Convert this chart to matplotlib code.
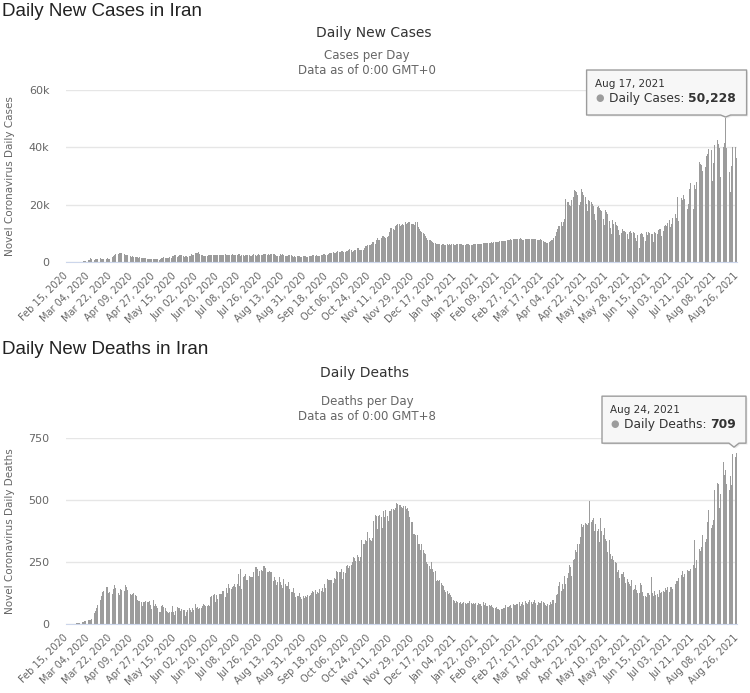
import numpy as np
import pandas as pd
import matplotlib
matplotlib.use('Agg')
import matplotlib.pyplot as plt
from matplotlib.patches import Polygon
from matplotlib.transforms import IdentityTransform

# daily values, Feb 15 2020 .. Aug 26 2021
start_date = '2020-02-15'
end_date = '2021-08-26'

# new cases, in thousands
cases_k = [
    # Feb 2020 (15-29)
    0, 0, 0, 0, 0.002, 0.003, 0.013, 0.010, 0.015, 0.018, 0.034, 0.044, 0.106, 0.143, 0.205,
    # Mar 2020
    0.385, 0.523, 0.835, 0.586, 0.591, 1.234, 1.076, 0.743, 0.595, 0.881,
    0.958, 1.075, 1.289, 1.365, 1.209, 1.053, 1.178, 1.192, 1.046, 1.237,
    0.966, 1.028, 1.411, 1.762, 2.206, 2.389, 2.926, 3.076, 2.901, 3.186, 3.110,
    # Apr 2020
    2.988, 2.875, 2.715, 2.560, 2.483, 2.274, 2.089, 1.997, 1.634, 1.972,
    1.837, 1.657, 1.617, 1.574, 1.512, 1.606, 1.499, 1.374, 1.343, 1.294,
    1.297, 1.194, 1.030, 1.168, 1.134, 1.153, 0.991, 1.112, 1.073, 0.993,
    # May 2020
    1.006, 0.802, 0.976, 1.223, 1.323, 1.680, 1.485, 1.556, 1.529, 1.383,
    1.683, 1.481, 1.958, 2.102, 2.346, 2.294, 1.806, 2.011, 2.294, 2.392,
    2.311, 2.102, 1.869, 2.180, 2.023, 1.815, 2.111, 2.080, 2.819, 2.282, 2.516,
    # Jun 2020
    2.979, 3.117, 3.134, 3.574, 2.886, 2.364, 2.596, 2.011, 2.095, 2.011,
    2.238, 2.410, 2.369, 2.472, 2.449, 2.612, 2.563, 2.596, 2.615, 2.322,
    2.368, 2.573, 2.531, 2.445, 2.595, 2.628, 2.489, 2.536, 2.457, 2.489,
    # Jul 2020
    2.549, 2.652, 2.560, 2.613, 2.560, 2.613, 2.637, 2.691, 2.262, 2.397,
    2.388, 2.186, 2.349, 2.521, 2.500, 2.379, 2.166, 2.166, 2.414, 2.625,
    2.586, 2.211, 2.489, 2.621, 2.316, 2.333, 2.434, 2.667, 2.751, 2.636, 2.451,
    # Aug 2020
    2.685, 2.598, 2.685, 2.685, 2.697, 2.634, 2.450, 2.125, 2.020, 2.245,
    2.751, 2.444, 2.698, 2.359, 2.133, 1.951, 2.061, 2.551, 2.444, 2.385,
    2.125, 1.907, 2.004, 1.820, 2.095, 2.118, 1.995, 1.777, 1.882, 1.974, 1.943,
    # Sep 2020
    1.994, 1.682, 1.884, 2.055, 2.134, 2.063, 2.269, 2.275, 2.137, 2.313,
    2.089, 2.049, 2.251, 2.472, 2.615, 2.705, 2.792, 2.563, 2.598, 2.850,
    3.049, 3.121, 3.204, 3.521, 3.201, 3.130, 3.362, 3.712, 3.559, 3.582,
    # Oct 2020
    3.825, 3.677, 3.576, 3.637, 3.902, 3.817, 4.019, 4.392, 4.142, 3.632,
    3.856, 4.206, 4.156, 4.830, 4.721, 4.103, 4.251, 4.131, 4.251, 5.039,
    5.616, 5.615, 5.960, 5.814, 5.960, 6.191, 6.968, 6.824, 6.391, 7.820, 8.293,
    # Nov 2020
    7.719, 7.719, 8.289, 8.932, 9.236, 8.828, 8.201, 8.880, 9.236, 10.463,
    11.780, 11.737, 11.517, 11.272, 12.543, 13.053, 13.421, 13.223, 12.478, 12.931,
    13.223, 12.931, 13.843, 13.321, 13.762, 13.843, 14.051, 13.401, 13.262, 13.321,
    # Dec 2020
    13.056, 13.922, 13.831, 12.151, 11.455, 10.800, 10.401, 10.223, 9.650, 9.171,
    8.201, 7.650, 7.601, 7.612, 7.371, 7.016, 6.796, 6.571, 6.312, 6.241,
    6.151, 6.201, 6.021, 6.108, 6.271, 6.024, 6.050, 6.163, 6.048, 6.125, 6.094,
    # Jan 2021
    6.200, 6.400, 6.100, 6.002, 6.171, 6.161, 6.273, 6.215, 6.137, 5.996,
    5.845, 6.002, 6.195, 6.256, 6.105, 6.014, 6.072, 5.885, 6.126, 6.161,
    6.228, 6.317, 6.366, 6.268, 6.164, 6.422, 6.508, 6.692, 6.486, 6.506, 6.482,
    # Feb 2021
    6.734, 6.671, 6.871, 6.792, 6.978, 6.955, 6.931, 7.104, 7.128, 7.193,
    7.380, 7.261, 7.379, 7.466, 7.424, 7.590, 7.708, 7.832, 7.916, 7.826,
    8.009, 8.106, 8.120, 8.011, 8.012, 8.136, 8.206, 8.013,
    # Mar 2021
    7.700, 7.841, 8.003, 8.094, 8.067, 7.934, 7.866, 7.948, 8.100, 8.097,
    7.990, 7.998, 7.650, 7.635, 7.810, 7.950, 7.742, 7.403, 7.115, 6.901,
    6.651, 6.705, 6.990, 7.200, 7.500, 7.800, 8.500, 9.100, 10.330, 11.680, 12.600,
    # Apr 2021
    12.6, 13.9, 12.6, 13.8, 15.1, 21.9, 20.9, 21.0, 19.9, 19.5,
    21.6, 22.5, 25.0, 24.7, 24.3, 23.3, 19.9, 21.0, 25.5, 24.3,
    23.3, 22.5, 20.1, 17.9, 21.6, 21.3, 20.9, 20.4, 19.5, 16.7,
    # May 2021
    14.5, 19.2, 19.6, 18.7, 18.2, 17.9, 15.0, 12.9, 18.0, 17.4,
    16.8, 14.2, 11.9, 9.8, 14.7, 13.4, 14.1, 12.9, 12.5, 11.3,
    9.4, 10.2, 11.5, 10.7, 10.9, 10.3, 9.6, 8.1, 10.4, 10.8, 10.1,
    # Jun 2021
    10.5, 10.2, 8.5, 7.2, 9.3, 4.8, 9.8, 10.1, 9.7, 8.8,
    7.4, 10.4, 9.3, 10.3, 10.1, 9.9, 9.6, 6.9, 10.5, 10.2,
    9.7, 11.2, 11.6, 11.5, 9.2, 10.8, 12.5, 13.0, 12.4, 13.7,
    # Jul 2021
    14.5, 12.1, 13.2, 15.3, 15.9, 16.7, 15.4, 22.7, 14.3, 19.0,
    22.3, 21.5, 23.4, 22.1, 22.5, 18.6, 20.2, 25.4, 27.4, 25.9,
    18.5, 26.9, 25.6, 28.0, 29.7, 34.9, 34.2, 34.0, 31.8, 27.4, 33.0,
    # Aug 2021 (1-26)
    37.1, 37.5, 39.3, 39.6, 39.0, 28.1, 34.4, 40.8, 40.6, 42.5,
    41.2, 39.6, 29.7, 36.4, 40.1, 41.5, 50.228, 39.8, 36.4, 31.3,
    24.3, 33.5, 40.2, 39.9, 40.1, 36.4,
]

deaths = [
    # Feb 2020 (15-29)
    0, 0, 0, 0, 2, 0, 2, 1, 3, 4, 4, 3, 7, 8, 9,
    # Mar 2020
    11, 12, 11, 15, 15, 17, 21, 49, 43, 54, 63, 75, 85, 97, 113, 129,
    135, 147, 149, 149, 123, 129, 127, 122, 143, 157, 144, 139, 123, 117, 141,
    # Apr 2020
    138, 124, 134, 158, 151, 136, 133, 121, 117, 122, 125, 117, 111, 98, 94,
    92, 89, 73, 87, 88, 94, 88, 90, 93, 76, 60, 96, 71, 80, 71,
    # May 2020
    63, 47, 47, 74, 78, 68, 65, 51, 48, 45, 48, 50, 71, 48, 35, 51,
    69, 66, 63, 51, 62, 56, 58, 34, 50, 57, 63, 56, 50, 63, 57,
    # Jun 2020
    81, 64, 70, 59, 63, 63, 72, 81, 75, 71, 71, 75, 71, 107, 113,
    115, 120, 87, 115, 100, 119, 121, 119, 133, 134, 109, 144, 125, 162, 147,
    # Jul 2020
    141, 148, 154, 163, 148, 163, 200, 153, 221, 142, 188, 194, 203, 179, 179, 195,
    188, 188, 188, 209, 229, 229, 221, 195, 215, 216, 212, 235, 235, 226, 208,
    # Aug 2020
    208, 212, 208, 211, 174, 189, 179, 156, 169, 189, 170, 158, 144, 181, 163, 152,
    152, 168, 141, 128, 130, 146, 123, 107, 114, 112, 124, 108, 102, 113, 104,
    # Sep 2020
    112, 109, 115, 113, 116, 125, 134, 128, 138, 122, 128, 126, 141, 134, 144,
    131, 162, 147, 180, 177, 178, 176, 178, 165, 184, 182, 213, 210, 211, 209,
    # Oct 2020
    223, 181, 210, 206, 235, 239, 227, 235, 239, 251, 272, 267, 254, 279, 269, 253,
    269, 337, 322, 322, 337, 335, 369, 346, 337, 335, 346, 415, 440, 434, 384,
    # Nov 2020
    434, 440, 433, 386, 457, 431, 459, 434, 414, 456, 457, 462, 462, 461, 469,
    486, 482, 479, 479, 472, 469, 475, 475, 462, 469, 457, 431, 413, 413, 362,
    # Dec 2020
    362, 358, 357, 321, 321, 300, 321, 298, 286, 284, 251, 242, 233, 221, 251, 221,
    211, 213, 175, 179, 172, 177, 166, 157, 152, 136, 131, 134, 119, 124, 115,
    # Jan 2021
    110, 97, 91, 84, 94, 89, 85, 87, 81, 85, 87, 86, 82, 84, 83, 91,
    85, 82, 85, 80, 84, 78, 86, 79, 81, 73, 87, 77, 85, 72, 73,
    # Feb 2021
    75, 71, 77, 68, 63, 64, 69, 61, 60, 58, 61, 62, 64, 65,
    75, 70, 69, 74, 78, 65, 80, 75, 77, 79, 82, 88, 74, 79,
    # Mar 2021
    88, 78, 93, 84, 81, 89, 96, 90, 82, 87, 95, 84, 76, 89, 83, 84,
    94, 90, 85, 78, 72, 81, 75, 87, 82, 96, 97, 86, 118, 122, 154,
    # Apr 2021
    170, 135, 163, 142, 193, 161, 185, 206, 236, 228, 193, 258, 263, 300, 291,
    322, 321, 351, 405, 391, 399, 407, 405, 401, 409, 496, 412, 421, 427, 376,
    # May 2021
    402, 373, 383, 329, 426, 375, 359, 389, 343, 333, 290, 340, 283, 264, 276, 257,
    250, 247, 210, 216, 184, 200, 203, 209, 188, 166, 181, 171, 163, 155, 179,
    # Jun 2021
    139, 142, 158, 139, 125, 127, 165, 158, 128, 114, 112, 108, 127, 125, 117,
    188, 124, 112, 134, 117, 120, 108, 137, 127, 130, 132, 129, 145, 138, 151,
    # Jul 2021
    131, 148, 151, 143, 159, 162, 175, 175, 185, 184, 199, 213, 188, 201, 205, 218,
    212, 213, 222, 236, 238, 339, 227, 257, 286, 304, 294, 310, 357, 366, 330,
    # Aug 2021 (1-26)
    342, 411, 458, 397, 389, 400, 418, 542, 588, 568, 564, 466, 524,
    590, 655, 599, 620, 564, 610, 540, 597, 560, 684, 709, 674, 690,
]

cases_tip_date = '2021-08-17'
deaths_tip_date = '2021-08-24'

dates = pd.date_range(start_date, end_date, freq='D')
cases = np.array(cases_k) * 1000
deaths = np.array(deaths)
assert len(cases) == len(dates) == len(deaths)

tick_idx = np.arange(0, len(dates), 18)
tick_labels = [d.strftime('%b %d, %Y') for d in dates[tick_idx]]

W, H = 750, 693
BAR = '#9c9c9c'
DARK = '#333333'
GREY = '#666666'

fig = plt.figure(figsize=(W / 100, H / 100), dpi=100)


def rect(l, t, r, b):
    return [l / W, 1 - b / H, (r - l) / W, (b - t) / H]


def put(x, y, s, **kw):
    # text placed in image pixels (y measured from top)
    kw.setdefault('family', 'DejaVu Sans')
    return fig.text(x / W, 1 - y / H, s, **kw)


def panel(ax, values, ymax, ystep, fmt):
    x = np.arange(len(values))
    ax.bar(x, values, width=0.8, color=BAR, linewidth=0)
    ax.set_xlim(-0.5, len(values) - 0.5)
    ax.set_ylim(0, ymax)
    yt = np.arange(0, ymax + 1, ystep)
    ax.set_yticks(yt)
    ax.set_yticklabels([fmt(v) for v in yt])
    ax.grid(axis='y', color='#e6e6e6', lw=1)
    ax.set_axisbelow(True)
    for s in ['top', 'right', 'left']:
        ax.spines[s].set_visible(False)
    ax.spines['bottom'].set_color('#ccd6eb')
    ax.tick_params(axis='both', length=0, colors=GREY)
    ax.tick_params(axis='y', labelsize=8, pad=12)
    ax.set_xticks(tick_idx)
    ax.set_xticklabels(tick_labels, rotation=45, ha='right', va='center',
                       rotation_mode='anchor', fontsize=7)
    ax.tick_params(axis='x', pad=9)


def tooltip(ax, idx, value, date_text, name, value_text, box):
    # box = (left, right, top, bottom) offsets in pixels from the point
    px, py = ax.transData.transform((idx, value))
    l, r, t, b = box
    L, R, T, B = px + l, px + r, py + t, py + b
    pts = [(L, B), (px - 5, B), (px, py + 1), (px + 5, B), (R, B), (R, T), (L, T)]
    shadow = [(xx + 1.5, yy - 1.5) for xx, yy in pts]
    fig.add_artist(Polygon(shadow, closed=True, fc='#000000', ec='none', alpha=0.08,
                           transform=IdentityTransform()))
    fig.add_artist(Polygon(pts, closed=True, fc='#f7f7f7', ec='#9c9c9c', lw=1,
                           transform=IdentityTransform(), joinstyle='round'))
    tr = IdentityTransform()
    fig.text(L + 8, T - 14, date_text, transform=tr, fontsize=7.5, color=DARK,
             va='center', family='DejaVu Sans')
    fig.text(L + 13, T - 28, '\u25cf', transform=tr, fontsize=7, color=BAR,
             ha='center', va='center', family='DejaVu Sans')
    t1 = fig.text(L + 22, T - 28, name + ': ', transform=tr, fontsize=8.8, color=DARK,
                  va='center', family='DejaVu Sans')
    rend = fig.canvas.get_renderer()
    w = t1.get_window_extent(rend).width
    fig.text(L + 22 + w, T - 28, value_text, transform=tr, fontsize=8.8, color=DARK,
             va='center', family='DejaVu Sans', fontweight='bold')


ax1 = fig.add_axes(rect(66, 90, 737, 262))
panel(ax1, cases, 60000, 20000, lambda v: '0' if v == 0 else f'{int(v / 1000)}k')
ax2 = fig.add_axes(rect(66, 438, 737, 624))
panel(ax2, deaths, 750, 250, lambda v: f'{int(v)}')

# headings and titles
put(2, 11, 'Daily New Cases in Iran', family='Liberation Sans', fontsize=13.5,
    color='#222222', va='center')
put(374, 33, 'Daily New Cases', fontsize=10, color=DARK, ha='center', va='center')
put(367, 56, 'Cases per Day', fontsize=8.5, color=GREY, ha='center', va='center')
put(367, 70, 'Data as of 0:00 GMT+0', fontsize=8.5, color=GREY, ha='center', va='center')
put(10, 176, 'Novel Coronavirus Daily Cases', fontsize=7.5, color=GREY,
    rotation=90, ha='center', va='center')

put(2, 350, 'Daily New Deaths in Iran', family='Liberation Sans', fontsize=13.5,
    color='#222222', va='center')
put(365, 373, 'Daily Deaths', fontsize=10, color=DARK, ha='center', va='center')
put(367, 401, 'Deaths per Day', fontsize=8.5, color=GREY, ha='center', va='center')
put(367, 416, 'Data as of 0:00 GMT+8', fontsize=8.5, color=GREY, ha='center', va='center')
put(10, 531, 'Novel Coronavirus Daily Deaths', fontsize=7.5, color=GREY,
    rotation=90, ha='center', va='center')

# tooltips
ci = dates.get_loc(pd.Timestamp(cases_tip_date))
tooltip(ax1, ci, cases[ci], dates[ci].strftime('%b %d, %Y'), 'Daily Cases',
        f'{int(cases[ci]):,}', (-139, 21, 48, 3))
di = dates.get_loc(pd.Timestamp(deaths_tip_date))
tooltip(ax2, di, deaths[di], dates[di].strftime('%b %d, %Y'), 'Daily Deaths',
        f'{int(deaths[di]):,}', (-132, 12, 52, 5))

fig.savefig('out.png', dpi=100)
